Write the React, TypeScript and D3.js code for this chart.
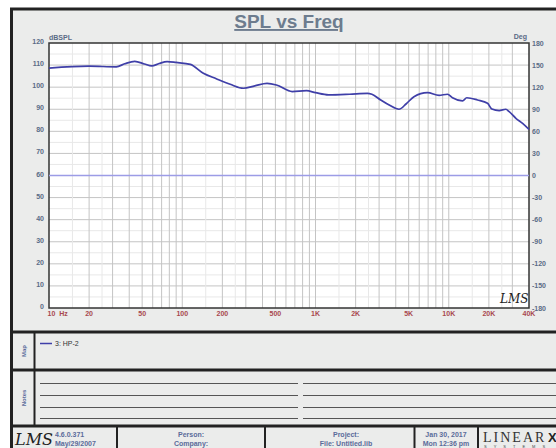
import React, { useEffect, useRef } from "react";
import * as d3 from "d3";

// SPL response (Hz, dB SPL)
const freqHz = [
  10, 20, 32, 37, 44, 52, 59, 67, 77, 90, 115, 144, 180, 229, 288, 350, 433,
  509, 668, 855, 1000, 1250, 1800, 2450, 2650, 3085, 3600, 4230, 4800, 5480,
  6920, 8460, 9780, 10660, 12680, 13650, 16430, 19540, 21050, 23900, 26800,
  28400, 31900, 35800, 40000,
];
const splDb = [
  108.6, 109.5, 109.2, 110.6, 111.7, 110.5, 109.6, 110.7, 111.6, 111.2, 110.3,
  106.3, 103.8, 101.3, 99.5, 100.6, 101.7, 101.0, 98.0, 98.4, 97.5, 96.5, 96.8,
  97.2, 96.8, 94.2, 91.8, 90.0, 92.5, 95.7, 97.5, 96.3, 96.8, 95.2, 93.8, 95.2,
  94.2, 92.7, 90.1, 89.4, 90.0, 88.9, 85.9, 83.6, 80.9,
];
// phase trace (flat at 0 deg)
const phaseFreq = [10, 40000];
const phaseDeg = [0, 0];

const dbTicks = [0, 10, 20, 30, 40, 50, 60, 70, 80, 90, 100, 110, 120];
const degTicks = [-180, -150, -120, -90, -60, -30, 0, 30, 60, 90, 120, 150, 180];
const freqTicks = [10, 20, 50, 100, 200, 500, 1000, 2000, 5000, 10000, 20000, 40000];
const freqLabels = ["10  Hz", "20", "50", "100", "200", "500", "1K", "2K", "5K", "10K", "20K", "40K"];

const FONT = "'Liberation Sans', Arial, sans-serif";

const App = () => {
  const ref = useRef<SVGSVGElement | null>(null);

  useEffect(() => {
    const width = 556;
    const height = 448;
    const left = 49;
    const right = 529;
    const top = 43;
    const bottom = 308;

    const svg = d3.select(ref.current);
    svg.selectAll("*").remove();
    svg.attr("width", width).attr("height", height);

    const x = d3.scaleLog().domain([10, 40000]).range([left, right]);
    const y = d3.scaleLinear().domain([0, 120]).range([bottom, top]);
    const yDeg = d3.scaleLinear().domain([-180, 180]).range([bottom, top]);

    // page + outer frame
    svg.append("rect").attr("width", width).attr("height", height).attr("fill", "#fff");
    svg
      .append("rect")
      .attr("x", 11.5)
      .attr("y", 9)
      .attr("width", 560)
      .attr("height", 460)
      .attr("fill", "#ebeceb")
      .attr("stroke", "#222")
      .attr("stroke-width", 3);

    // title
    svg
      .append("text")
      .attr("x", 289)
      .attr("y", 28)
      .attr("text-anchor", "middle")
      .style("font-family", FONT)
      .style("font-size", "19px")
      .style("font-weight", "bold")
      .style("text-decoration", "underline")
      .attr("fill", "#6d7c8e")
      .text("SPL vs Freq");

    // plot area
    svg
      .append("rect")
      .attr("x", left)
      .attr("y", top)
      .attr("width", right - left)
      .attr("height", bottom - top)
      .attr("fill", "#fff");

    const grid = svg.append("g");
    // horizontal grid
    for (let v = 5; v < 120; v += 5) {
      grid
        .append("line")
        .attr("x1", left)
        .attr("x2", right)
        .attr("y1", y(v))
        .attr("y2", y(v))
        .attr("stroke", v % 10 === 0 ? "#c4c4c4" : "#e8e8e8")
        .attr("stroke-width", 1);
    }
    // vertical grid (log)
    const majors: number[] = [];
    const minors: number[] = [];
    [10, 100, 1000, 10000].forEach((dec) => {
      for (let k = 1; k <= 9; k++) if (k * dec > 10 && k * dec < 40000) majors.push(k * dec);
      [1.5, 2.5].forEach((k) => minors.push(k * dec));
    });
    minors.forEach((f) => {
      grid
        .append("line")
        .attr("x1", x(f))
        .attr("x2", x(f))
        .attr("y1", top)
        .attr("y2", bottom)
        .attr("stroke", "#e8e8e8");
    });
    majors.forEach((f) => {
      grid
        .append("line")
        .attr("x1", x(f))
        .attr("x2", x(f))
        .attr("y1", top)
        .attr("y2", bottom)
        .attr("stroke", "#c4c4c4");
    });

    svg
      .append("rect")
      .attr("x", left)
      .attr("y", top)
      .attr("width", right - left)
      .attr("height", bottom - top)
      .attr("fill", "none")
      .attr("stroke", "#333")
      .attr("stroke-width", 1.5);

    // left axis labels
    svg
      .append("g")
      .selectAll("text")
      .data(dbTicks)
      .enter()
      .append("text")
      .attr("x", left - 5)
      .attr("y", (d) => y(d) + 1)
      .attr("text-anchor", "end")
      .style("font-family", FONT)
      .style("font-size", "7px")
      .style("font-weight", "bold")
      .attr("fill", "#5a6b86")
      .text((d) => d);
    svg
      .append("text")
      .attr("x", left)
      .attr("y", top - 3)
      .style("font-family", FONT)
      .style("font-size", "7px")
      .style("font-weight", "bold")
      .attr("fill", "#5a6b86")
      .text("dBSPL");

    // right axis labels
    svg
      .append("g")
      .selectAll("text")
      .data(degTicks)
      .enter()
      .append("text")
      .attr("x", right + 3)
      .attr("y", (d) => yDeg(d) + 2.5)
      .style("font-family", FONT)
      .style("font-size", "7px")
      .style("font-weight", "bold")
      .attr("fill", "#5a6b86")
      .text((d) => d);
    svg
      .append("text")
      .attr("x", right - 2)
      .attr("y", top - 4)
      .attr("text-anchor", "end")
      .style("font-family", FONT)
      .style("font-size", "7px")
      .style("font-weight", "bold")
      .attr("fill", "#5a6b86")
      .text("Deg");

    // frequency labels
    svg
      .append("g")
      .selectAll("text")
      .data(freqTicks)
      .enter()
      .append("text")
      .attr("x", (d, i) => (i === 0 ? x(d) - 1.5 : x(d)))
      .attr("y", bottom + 8)
      .attr("text-anchor", (d, i) => (i === 0 ? "start" : "middle"))
      .attr("xml:space", "preserve")
      .style("white-space", "pre")
      .style("font-family", FONT)
      .style("font-size", "7px")
      .style("font-weight", "bold")
      .attr("fill", "#a8484e")
      .text((d, i) => freqLabels[i]);

    // phase trace
    const phaseLine: any = d3
      .line()
      .x((d: any) => x(d[0]))
      .y((d: any) => yDeg(d[1]));
    svg
      .append("path")
      .attr("d", phaseLine(phaseFreq.map((f, i) => [f, phaseDeg[i]])))
      .attr("fill", "none")
      .attr("stroke", "#9c9ce6")
      .attr("stroke-width", 1.3);

    // SPL trace
    const splLine: any = d3
      .line()
      .x((d: any) => x(d[0]))
      .y((d: any) => y(d[1]))
      .curve(d3.curveMonotoneX);
    svg
      .append("path")
      .attr("d", splLine(freqHz.map((f, i) => [f, splDb[i]])))
      .attr("fill", "none")
      .attr("stroke", "#3f3fa8")
      .attr("stroke-width", 1.7);

    // LMS watermark in plot
    svg
      .append("text")
      .attr("x", 500)
      .attr("y", 303)
      .style("font-family", "'DejaVu Serif', serif")
      .style("font-style", "italic")
      .style("font-size", "12px")
      .attr("fill", "#222")
      .text("LMS");

    // section separators
    const thick = (y0: number) =>
      svg
        .append("line")
        .attr("x1", 11)
        .attr("x2", width)
        .attr("y1", y0)
        .attr("y2", y0)
        .attr("stroke", "#222")
        .attr("stroke-width", 3);
    thick(332);
    thick(370);
    thick(426);

    const vline = (x0: number, y1: number, y2: number, w = 2) =>
      svg
        .append("line")
        .attr("x1", x0)
        .attr("x2", x0)
        .attr("y1", y1)
        .attr("y2", y2)
        .attr("stroke", "#222")
        .attr("stroke-width", w);
    vline(34.5, 333, 425);

    const sideLabel = (txt: string, cy: number) =>
      svg
        .append("text")
        .attr("transform", `translate(25.5,${cy}) rotate(-90)`)
        .attr("text-anchor", "middle")
        .style("font-family", FONT)
        .style("font-size", "6px")
        .style("font-weight", "bold")
        .attr("fill", "#5a6b9a")
        .text(txt);
    sideLabel("Map", 351);
    sideLabel("Notes", 398);

    // map legend
    svg
      .append("line")
      .attr("x1", 40)
      .attr("x2", 52)
      .attr("y1", 343.5)
      .attr("y2", 343.5)
      .attr("stroke", "#3f3fa8")
      .attr("stroke-width", 1.5);
    svg
      .append("text")
      .attr("x", 55)
      .attr("y", 346)
      .style("font-family", FONT)
      .style("font-size", "7px")
      .attr("fill", "#333")
      .text("3: HP-2");

    // notes lines
    [383.5, 395.5, 407.5, 418.5].forEach((ly) => {
      svg.append("line").attr("x1", 40).attr("x2", 298).attr("y1", ly).attr("y2", ly).attr("stroke", "#555");
      svg.append("line").attr("x1", 303).attr("x2", width).attr("y1", ly).attr("y2", ly).attr("stroke", "#555");
    });

    // footer
    vline(117, 427, height);
    vline(265, 427, height);
    vline(414.5, 427, height);
    vline(478, 427, height);

    const footText = (tx: number, ty: number, txt: string, anchor = "middle") =>
      svg
        .append("text")
        .attr("x", tx)
        .attr("y", ty)
        .attr("text-anchor", anchor)
        .style("font-family", FONT)
        .style("font-size", "7px")
        .style("font-weight", "bold")
        .attr("fill", "#5a6b9a")
        .text(txt);
    footText(55, 437, "4.6.0.371", "start");
    footText(55, 446, "May/29/2007", "start");
    footText(191, 437, "Person:");
    footText(191, 446, "Company:");
    footText(346, 437, "Project:");
    footText(346, 446, "File: Untitled.lib");
    footText(446, 437, "Jan 30, 2017");
    footText(446, 446, "Mon 12:36 pm");

    svg
      .append("text")
      .attr("x", 15)
      .attr("y", 445)
      .style("font-family", "'DejaVu Serif', serif")
      .style("font-style", "italic")
      .style("font-size", "16px")
      .attr("fill", "#222")
      .text("LMS");

    svg
      .append("text")
      .attr("x", 483)
      .attr("y", 442)
      .style("font-family", "'Liberation Serif', serif")
      .style("font-size", "14px")
      .style("letter-spacing", "2px")
      .attr("fill", "#333")
      .text("LINEAR");
    svg
      .append("text")
      .attr("x", 548)
      .attr("y", 442)
      .style("font-family", FONT)
      .style("font-size", "13px")
      .style("font-weight", "bold")
      .attr("fill", "#222")
      .text("X");
    svg
      .append("text")
      .attr("x", 484)
      .attr("y", 448)
      .style("font-family", FONT)
      .style("font-size", "4px")
      .style("letter-spacing", "7px")
      .attr("fill", "#444")
      .text("SYSTEMS");
  }, []);

  return (
    <svg
      ref={ref}
      style={{ position: "absolute", left: 0, top: 0, display: "block" }}
    />
  );
};

export default App;
